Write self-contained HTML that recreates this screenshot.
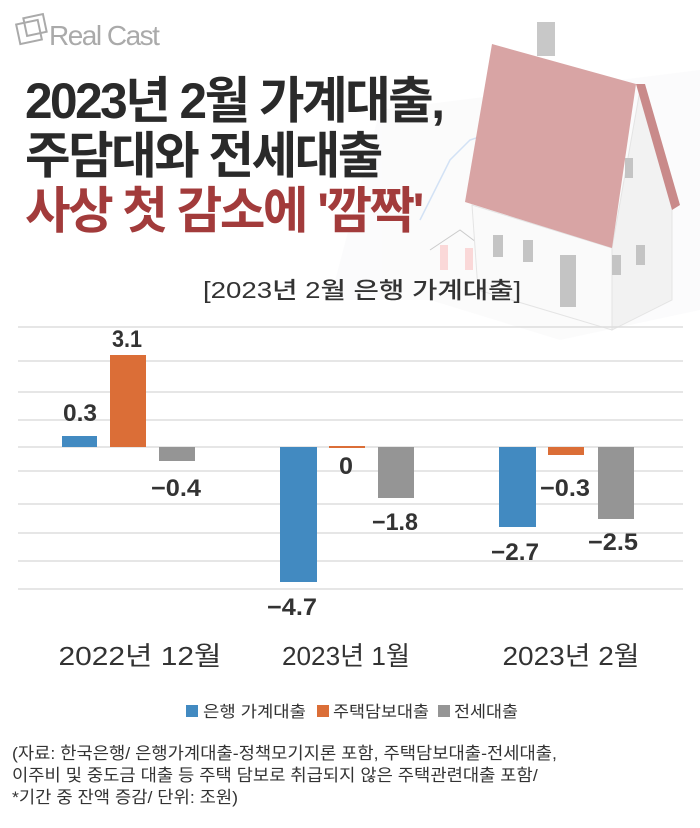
<!DOCTYPE html>
<html><head><meta charset="utf-8"><style>
body{margin:0;width:700px;height:828px;background:#fff;position:relative;overflow:hidden;font-family:"Liberation Sans","Noto Sans CJK KR",sans-serif}
.t{position:absolute;white-space:nowrap;transform-origin:0 0}
</style></head><body>
<svg width="700" height="828" style="position:absolute;left:0;top:0">
<g opacity="0.3">
<polygon points="380,110 700,70 700,310 560,340 430,300 330,300" fill="#f3f3f5"/>
<g fill="#f08080"><rect x="440" y="245" width="8" height="25"/><rect x="465" y="248" width="8" height="22"/><rect x="490" y="245" width="8" height="25"/><rect x="515" y="244" width="8" height="28"/><rect x="545" y="235" width="8" height="40"/><rect x="570" y="238" width="8" height="36"/><rect x="600" y="240" width="8" height="30"/><rect x="620" y="242" width="8" height="26"/></g>
<polyline points="430,250 460,230 480,245 510,220 540,210" fill="none" stroke="#555" stroke-width="1"/>
<polyline points="420,220 450,160 470,140 500,130" fill="none" stroke="#6fa0e0" stroke-width="1.5"/>
</g>
<rect x="537" y="22" width="18" height="34" fill="#c8c8c8"/>
<polygon points="472,205 612,248 612,330 478,290" fill="#fafafa" stroke="#e4e4e4"/>
<polygon points="612,248 640,90 672,205 672,300 612,330" fill="#f2f2f2" stroke="#e4e4e4"/>
<polygon points="465,202 492,44 636,84 612,248" fill="#d8a4a4"/>
<polygon points="636,84 645,84 680,205 672,210" fill="#c98a8a"/>
<rect x="560" y="255" width="16" height="52" fill="#c4c4c4"/>
<rect x="493" y="235" width="10" height="22" fill="#c4c4c4"/><rect x="523" y="240" width="10" height="22" fill="#c4c4c4"/>
<rect x="612" y="255" width="9" height="20" fill="#c4c4c4"/><rect x="636" y="245" width="9" height="20" fill="#c4c4c4"/><rect x="625" y="158" width="8" height="20" fill="#c4c4c4"/>
<g fill="none" stroke="#aaa" stroke-width="2"><rect x="18" y="22" width="22" height="20" transform="rotate(-12 29 32)"/><rect x="25" y="16" width="20" height="18" transform="rotate(-12 35 25)"/></g>
<g stroke="#ddd" stroke-width="1.5">
<line x1="18" x2="683" y1="327" y2="327"/><line x1="18" x2="683" y1="361" y2="361"/><line x1="18" x2="683" y1="392" y2="392"/><line x1="18" x2="683" y1="420" y2="420"/><line x1="18" x2="683" y1="447" y2="447"/><line x1="18" x2="683" y1="471" y2="471"/><line x1="18" x2="683" y1="504" y2="504"/><line x1="18" x2="683" y1="533" y2="533"/><line x1="18" x2="683" y1="561" y2="561"/><line x1="18" x2="683" y1="589" y2="589"/>
</g>
<rect x="62" y="436" width="35" height="11" fill="#428ac1"/>
<rect x="110" y="355" width="36" height="92" fill="#db6e37"/>
<rect x="159" y="447" width="36" height="14" fill="#959595"/>
<rect x="280" y="447" width="37" height="135" fill="#428ac1"/>
<rect x="329" y="446" width="36" height="2" fill="#db6e37"/>
<rect x="378" y="447" width="36" height="51" fill="#959595"/>
<rect x="499" y="447" width="37" height="80" fill="#428ac1"/>
<rect x="548" y="447" width="36" height="8" fill="#db6e37"/>
<rect x="598" y="447" width="36" height="72" fill="#959595"/>
<g font-family="Liberation Sans, sans-serif" font-weight="bold" font-size="24" fill="#333" text-anchor="middle">
<text x="80" y="421" textLength="34" lengthAdjust="spacingAndGlyphs">0.3</text>
<text x="127" y="347" textLength="30" lengthAdjust="spacingAndGlyphs">3.1</text>
<text x="176" y="496" textLength="50" lengthAdjust="spacingAndGlyphs">−0.4</text>
<text x="292" y="615" textLength="50" lengthAdjust="spacingAndGlyphs">−4.7</text>
<text x="346" y="474" textLength="14" lengthAdjust="spacingAndGlyphs">0</text>
<text x="395" y="530" textLength="46" lengthAdjust="spacingAndGlyphs">−1.8</text>
<text x="515" y="560" textLength="48" lengthAdjust="spacingAndGlyphs">−2.7</text>
<text x="565" y="496" textLength="50" lengthAdjust="spacingAndGlyphs">−0.3</text>
<text x="613" y="550" textLength="50" lengthAdjust="spacingAndGlyphs">−2.5</text>
</g>
<g font-size="26" fill="#333" text-anchor="middle">
<text x="140" y="665" textLength="163" lengthAdjust="spacingAndGlyphs">2022년 12월</text>
<text x="346" y="665" textLength="128" lengthAdjust="spacingAndGlyphs">2023년 1월</text>
<text x="571" y="665" textLength="137" lengthAdjust="spacingAndGlyphs">2023년 2월</text>
</g>
<rect x="186" y="705" width="12" height="12" fill="#428ac1"/>
<rect x="317" y="705" width="12" height="12" fill="#db6e37"/>
<rect x="438" y="705" width="12" height="12" fill="#959595"/>
<g font-size="16" fill="#333">
<text x="203" y="717" textLength="103" lengthAdjust="spacingAndGlyphs">은행 가계대출</text><text x="333" y="717" textLength="96" lengthAdjust="spacingAndGlyphs">주택담보대출</text><text x="454" y="717" textLength="64" lengthAdjust="spacingAndGlyphs">전세대출</text>
</g>
</svg>
<div class="t" style="left:49px;top:20px;font-size:28px;color:#aaa;letter-spacing:-1.5px">Real Cast</div>
<div class="t" style="left:25px;top:74px;font-size:50px;font-weight:bold;color:#2a2a2a;line-height:55px;transform:scaleX(0.99);letter-spacing:-2.5px">2023년 2월 가계대출,<br>주담대와 전세대출<br><span style="color:#a23b3b">사상 첫 감소에 '깜짝'</span></div>
<div class="t" style="left:203px;top:271px;font-size:23px;font-weight:500;color:#333;transform:scaleX(1.2)">[2023년 2월 은행 가계대출]</div>
<div class="t" style="left:12px;top:743px;font-size:17px;color:#333;line-height:22px;transform:scaleX(1.04)">(자료: 한국은행/ 은행가계대출-정책모기지론 포함, 주택담보대출-전세대출,<br>이주비 및 중도금 대출 등 주택 담보로 취급되지 않은 주택관련대출 포함/<br>*기간 중 잔액 증감/ 단위: 조원)</div>
</body></html>
